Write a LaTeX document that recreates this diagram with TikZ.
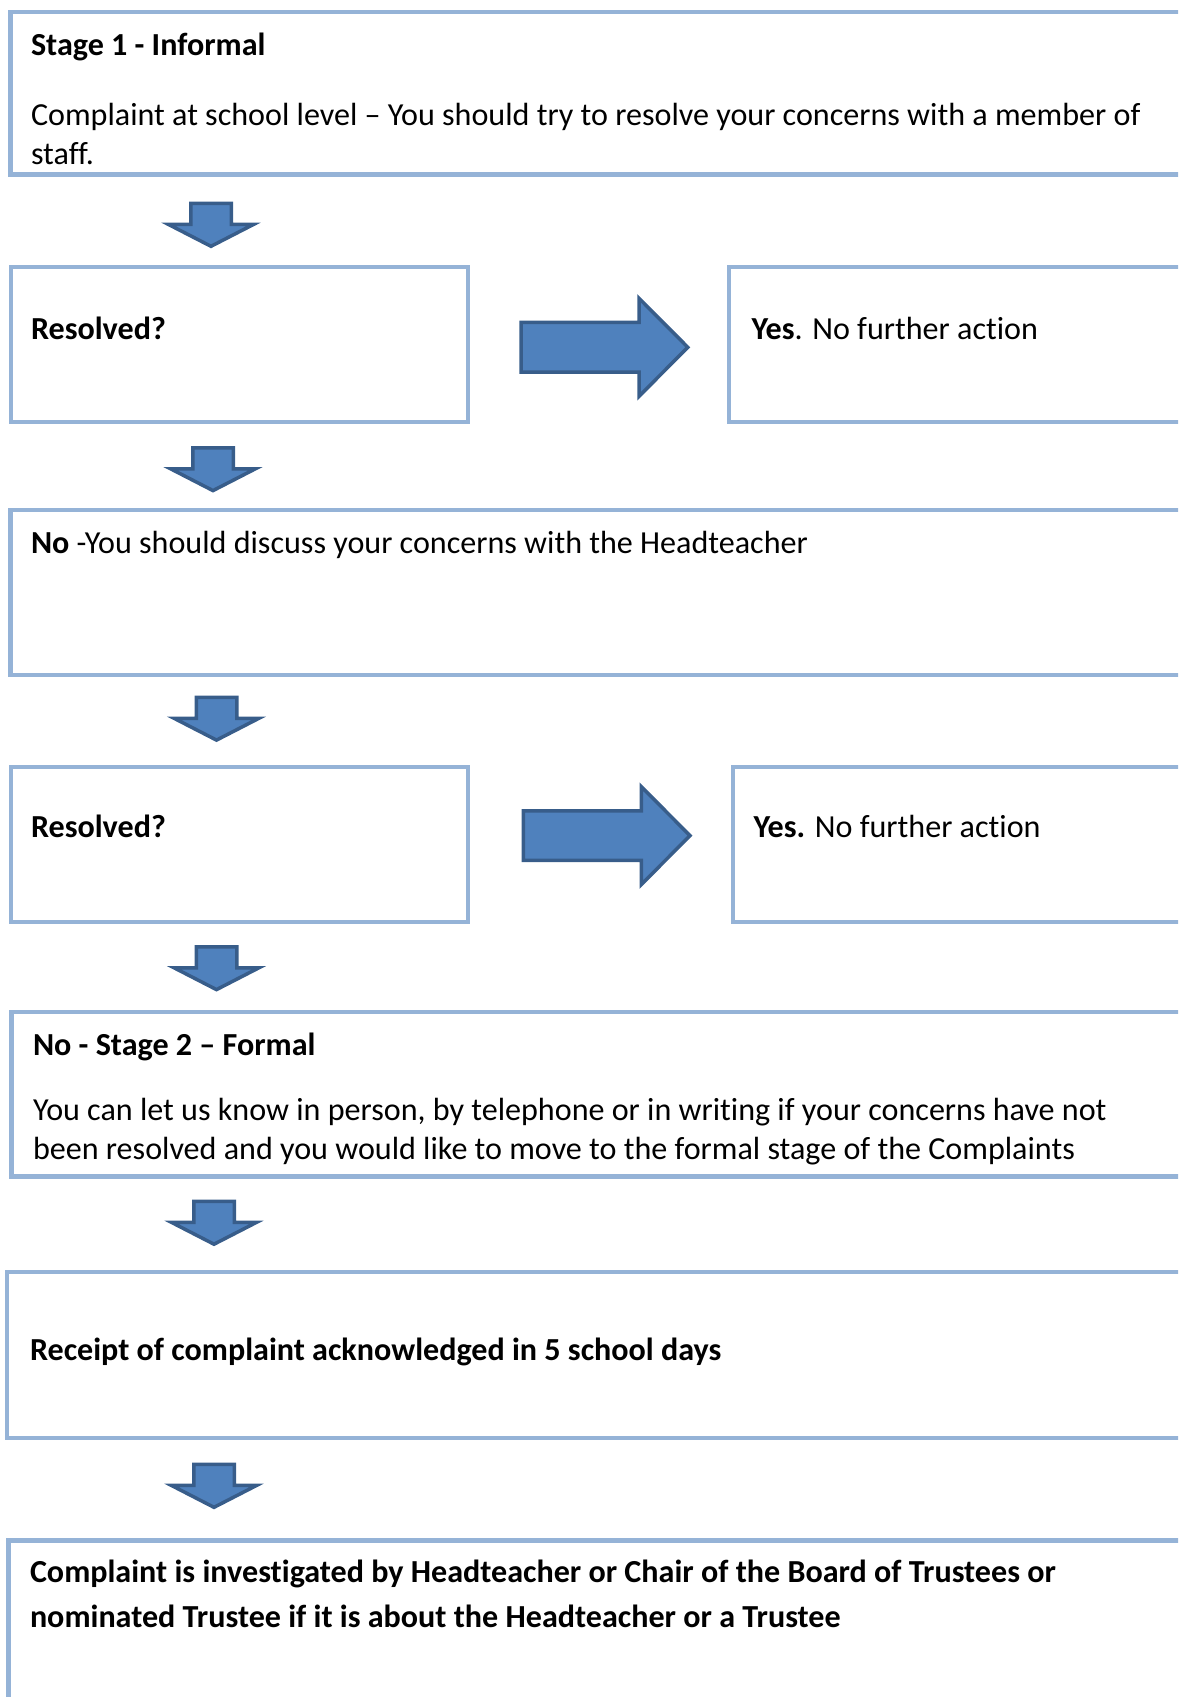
\documentclass[tikz,border=0pt]{standalone}
\usepackage{fontspec}
\setmainfont[Ligatures={NoCommon}]{Carlito}
\definecolor{boxblue}{HTML}{95B3D7}
\definecolor{arrfill}{HTML}{4F81BD}
\definecolor{arrline}{HTML}{385D8A}
\begin{document}
\begin{tikzpicture}[x=1pt,y=-1pt,
  box/.style={draw=boxblue, line width=4.5pt, rectangle, inner sep=0pt, outer sep=0pt, anchor=north west},
  blk/.style={fill=arrfill, draw=arrline, line width=3.5pt, line join=miter},
  txt/.style={anchor=base west, inner sep=0pt, outer sep=0pt, font=\fontsize{32.1}{39}\selectfont},
  darr/.pic={\path[blk] (-20.25,1.75) -- (20.25,1.75) -- (20.25,22.75) -- (42.5,22.75) -- (0,44.6) -- (-42.5,22.75) -- (-20.25,22.75) -- cycle;},
  rarr/.pic={\path[blk] (1.75,-24.85) -- (119.75,-24.85) -- (119.75,-49) -- (168.5,0) -- (119.75,49) -- (119.75,24.85) -- (1.75,24.85) -- cycle;}
]
\useasboundingbox (0,0) rectangle (1178,1697);
\clip (0,0) rectangle (1178,1697);

% boxes
\node[box, minimum width=1200pt, minimum height=162.3pt] (b1) at (10.5,12.2) {};
\node[box, minimum width=457pt, minimum height=155pt] (r1) at (11,267) {};
\node[box, minimum width=500pt, minimum height=155pt] (y1) at (729,267) {};
\node[box, minimum width=1200pt, minimum height=165pt] (n1) at (10.5,510) {};
\node[box, minimum width=457pt, minimum height=155pt] (r2) at (11,767) {};
\node[box, minimum width=500pt, minimum height=155pt] (y2) at (733,767) {};
\node[box, minimum width=1200pt, minimum height=164.5pt] (s2) at (11.5,1012) {};
\node[box, minimum width=1200pt, minimum height=166pt] (rc) at (7,1272) {};
\node[box, minimum width=1200pt, minimum height=300pt] (ci) at (8.5,1540.5) {};

% block arrows
\pic at (211,201.7) {darr};
\pic at (213,446) {darr};
\pic at (216.5,695.5) {darr};
\pic at (216.5,945) {darr};
\pic at (214,1199.6) {darr};
\pic at (214,1462.7) {darr};
\pic at (519.3,347.3) {rarr};
\pic at (521.5,835.6) {rarr};

% texts
\node[txt] (t1a) at (31,55) {\textbf{Stage 1 - Informal}};
\node[txt] (t1b) at (31,125) {Complaint at school level – You should try to resolve your concerns with a member of};
\node[txt] (t1c) at (31,164) {staff.};
\node[txt] (tr1) at (31,339) {\textbf{Resolved?}};
\node[txt] (ty1) at (751.5,339) {\textbf{Yes}. No further action};
\node[txt] (tn1) at (31,553) {\textbf{No} -You should discuss your concerns with the Headteacher};
\node[txt] (tr2) at (31,837.5) {\textbf{Resolved?}};
\node[txt] (ty2) at (753.6,837.5) {\textbf{Yes.} No further action};
\node[txt] (ts2a) at (33,1055) {\textbf{No - Stage 2 – Formal}};
\node[txt] (ts2b) at (33,1120) {You can let us know in person, by telephone or in writing if your concerns have not};
\node[txt] (ts2c) at (33,1159) {been resolved and you would like to move to the formal stage of the Complaints};
\node[txt] (trc) at (30,1360) {\textbf{Receipt of complaint acknowledged in 5 school days}};
\node[txt] (tci1) at (30,1582) {\textbf{Complaint is investigated by Headteacher or Chair of the Board of Trustees or}};
\node[txt] (tci2) at (30,1627) {\textbf{nominated Trustee if it is about the Headteacher or a Trustee}};
\end{tikzpicture}
\end{document}
